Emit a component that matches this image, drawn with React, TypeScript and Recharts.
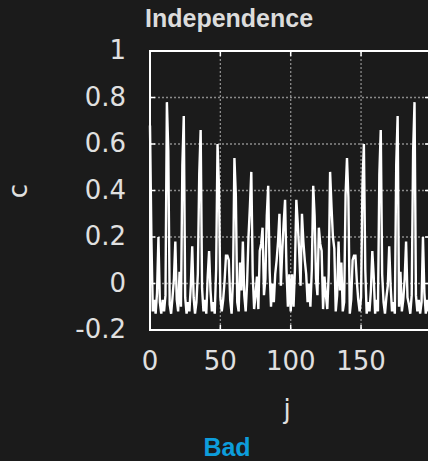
import { LineChart, Line, XAxis, YAxis, CartesianGrid, ReferenceArea } from "recharts";

// c(j), j = 0..199
const cFirst = [
  0.68, 0.19, -0.12, -0.07, -0.13, -0.04, 0.2, -0.08, -0.13, -0.07,
  -0.12, -0.05, 0.78, 0.57, -0.09, -0.13, -0.06, 0.02, 0.18, -0.07,
  -0.12, 0.05, -0.1, 0.51, 0.72, -0.06, -0.13, -0.08, -0.12, -0.01,
  0.16, -0.06, -0.13, -0.08, 0.04, 0.47, 0.66, -0.02, -0.12, -0.07,
  -0.13, 0.03, 0.14, -0.03, -0.12, -0.08, -0.13, 0.06, 0.6, 0.42,
  -0.06, -0.12, -0.07, 0.01, 0.12, 0.12, 0.1, -0.07, -0.13, 0.02,
  0.54, 0.38, -0.08, -0.12, 0.09, -0.03, 0.18, -0.05, -0.12, 0.0,
  0.2, 0.33, 0.48, 0.04, -0.11, -0.05, 0.03, -0.11, 0.14, 0.17,
  0.24, -0.05, 0.02, 0.29, 0.42, 0.06, -0.1, 0.0, -0.08, 0.04,
  0.1, 0.18, 0.3, -0.01, 0.14, 0.26, 0.36, 0.06, -0.1, 0.04,
  -0.12,
];
const cSecond = [
  0.04, -0.1, 0.06, 0.36, 0.26, 0.14, -0.01, 0.3, 0.18, 0.1,
  0.04, -0.08, 0.0, -0.1, 0.06, 0.42, 0.29, 0.02, -0.05, 0.24,
  0.17, 0.14, -0.11, 0.03, -0.05, -0.11, 0.04, 0.48, 0.33, 0.2,
  0.15, -0.12, -0.05, 0.18, -0.03, 0.09, -0.12, -0.08, 0.38, 0.54,
  0.37, -0.13, -0.07, 0.1, 0.12, 0.12, 0.01, -0.07, -0.12, -0.06,
  0.42, 0.6, 0.06, -0.13, -0.08, -0.12, -0.03, 0.14, 0.03, -0.13,
  -0.07, -0.12, 0.47, 0.66, 0.04, -0.08, -0.13, -0.06, -0.01, 0.16,
  -0.01, -0.12, -0.08, -0.13, 0.51, 0.72, -0.1, 0.05, -0.12, -0.07,
  0.02, 0.18, -0.06, -0.09, -0.13, -0.05, 0.57, 0.78, -0.05, -0.12,
  -0.07, -0.13, -0.08, 0.2, -0.04, -0.13, -0.07, -0.12, -0.08,
];
const xTicks = [0, 50, 100, 150];
const yTicks = [-0.2, 0, 0.2, 0.4, 0.6, 0.8, 1];

const data = [...cFirst, ...cSecond].map((c, j) => ({ j, c }));

const PL = 150;
const PT = 51;
const PR = 430;
const PB = 330;
const textColor = "#e0e0e0";
const tickFont = "DejaVu Sans";

const XTick = ({ x, payload }: any) => (
  <g>
    <line x1={x} x2={x} y1={PB} y2={PB - 5} stroke="#fff" strokeWidth={1.5} />
    <line x1={x} x2={x} y1={PT} y2={PT + 5} stroke="#fff" strokeWidth={1.5} />
    <text x={x} y={PB + 40} textAnchor="middle" fill={textColor} fontSize={26} fontFamily={tickFont}>
      {payload.value}
    </text>
  </g>
);

const YTick = ({ y, payload }: any) => (
  <g>
    <line x1={PL} x2={PL + 5} y1={y} y2={y} stroke="#fff" strokeWidth={1.5} />
    <line x1={PR - 5} x2={PR} y1={y} y2={y} stroke="#fff" strokeWidth={1.5} />
    <text x={126} y={y + 8} textAnchor="end" fill={textColor} fontSize={26} fontFamily={tickFont}>
      {String(payload.value)}
    </text>
  </g>
);

export default function App() {
  return (
    <div
      style={{
        position: "fixed",
        left: 0,
        top: 0,
        width: 428,
        height: 461,
        overflow: "hidden",
        background: "#1b1b1b",
      }}
    >
      <LineChart width={440} height={461} data={data} margin={{ top: PT, right: 10, bottom: 0, left: 0 }}>
        <CartesianGrid stroke="#8a8a8a" strokeDasharray="2 2" strokeWidth={1.3} />
        <XAxis
          dataKey="j"
          type="number"
          domain={[0, 199]}
          ticks={xTicks}
          height={131}
          tickSize={0}
          tickMargin={0}
          axisLine={false}
          tickLine={false}
          tick={<XTick />}
          interval={0}
        />
        <YAxis
          type="number"
          domain={[-0.2, 1]}
          ticks={yTicks}
          width={150}
          tickSize={0}
          tickMargin={0}
          axisLine={false}
          tickLine={false}
          tick={<YTick />}
          interval={0}
        />
        <Line
          type="linear"
          dataKey="c"
          stroke="#ffffff"
          strokeWidth={2.4}
          dot={false}
          isAnimationActive={false}
        />
        <ReferenceArea x1={0} x2={199} y1={-0.2} y2={1} fill="none" stroke="#ffffff" strokeWidth={2} />
      </LineChart>
      <svg
        width={428}
        height={461}
        style={{ position: "absolute", left: 0, top: 0, pointerEvents: "none" }}
      >
        <text x={145} y={27} fill="#dcdcdc" fontSize={25} fontWeight="bold" fontFamily="Liberation Sans">
          Independence
        </text>
        <text
          x={18}
          y={191}
          transform="rotate(-90 18 191)"
          textAnchor="middle"
          dominantBaseline="central"
          fill={textColor}
          fontSize={26}
          fontFamily={tickFont}
        >
          c
        </text>
        <text x={287} y={418} textAnchor="middle" fill={textColor} fontSize={26} fontFamily={tickFont}>
          j
        </text>
        <text x={227} y={456} textAnchor="middle" fill="#0d9ddb" fontSize={25} fontWeight="bold" fontFamily="Liberation Sans">
          Bad
        </text>
      </svg>
    </div>
  );
}
